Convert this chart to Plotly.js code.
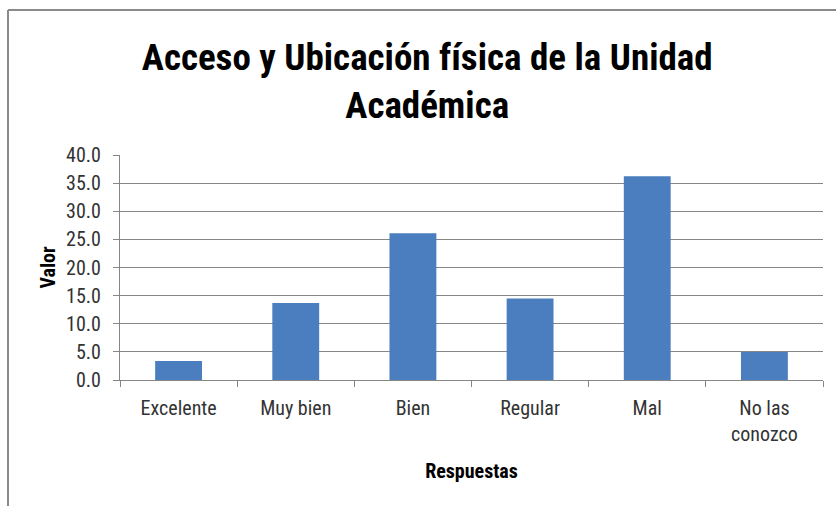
<!DOCTYPE html>
<html>
<head>
<meta charset="utf-8">
<script src="https://cdn.plot.ly/plotly-3.0.1.min.js"></script>
<style>
html,body{margin:0;padding:0;background:#fff;}
#chart{width:836px;height:506px;}
</style>
</head>
<body>
<div id="chart"></div>
<script>
const categories = ["Excelente", "Muy bien", "Bien", "Regular", "Mal", "No las<br>conozco"];
const values = [3.4, 13.7, 26.1, 14.5, 36.2, 5.0];
const yTickVals = [0, 5, 10, 15, 20, 25, 30, 35, 40];
const yTickText = ["0.0", "5.0", "10.0", "15.0", "20.0", "25.0", "30.0", "35.0", "40.0"];

const FONT = "'Liberation Sans Narrow', 'Roboto Condensed', 'Liberation Sans', sans-serif";

const trace = {
  type: "bar",
  x: categories,
  y: values,
  marker: {color: "#4a7ebf", line: {width: 0}},
  hoverinfo: "x+y"
};

const layout = {
  width: 836,
  height: 506,
  paper_bgcolor: "#ffffff",
  plot_bgcolor: "#ffffff",
  margin: {l: 120, r: 13, t: 155, b: 126},
  bargap: 0.6,
  showlegend: false,
  title: {
    text: "Acceso y Ubicación física de la Unidad<br>Académica",
    font: {family: FONT, size: 37, color: "#000000", weight: "bold"},
    x: 0.511, xref: "container", xanchor: "center",
    y: 0.862, yref: "container", yanchor: "top"
  },
  xaxis: {
    type: "category",
    tickson: "boundaries",
    ticks: "outside",
    ticklen: 6,
    tickcolor: "#868686",
    ticklabelstandoff: 10,
    showline: true,
    linecolor: "#868686",
    linewidth: 1,
    showgrid: false,
    tickfont: {family: FONT, size: 20, color: "#333333"},
    title: {text: "Respuestas", font: {family: FONT, size: 20, color: "#000000", weight: "bold"}, standoff: 18}
  },
  yaxis: {
    range: [0, 40],
    tickvals: yTickVals,
    ticktext: yTickText,
    ticks: "outside",
    ticklen: 6,
    tickcolor: "#868686",
    ticklabelstandoff: 8,
    showline: true,
    linecolor: "#868686",
    linewidth: 1,
    showgrid: true,
    gridcolor: "#868686",
    gridwidth: 1,
    zeroline: false,
    tickfont: {family: FONT, size: 20, color: "#333333"},
    title: {text: "Valor", font: {family: FONT, size: 20, color: "#000000", weight: "bold"}, standoff: 5}
  },
  shapes: [
    {type: "line", xref: "paper", yref: "paper", x0: (8 - 120) / 703, x1: 1.05, y0: (380 - 10) / 225, y1: (380 - 10) / 225, line: {color: "#8a8a8a", width: 2}},
    {type: "line", xref: "paper", yref: "paper", x0: (8 - 120) / 703, x1: (8 - 120) / 703, y0: (380 - 10) / 225, y1: -0.6, line: {color: "#8a8a8a", width: 2}}
  ]
};

Plotly.newPlot("chart", [trace], layout, {staticPlot: true, displayModeBar: false});
</script>
</body>
</html>
